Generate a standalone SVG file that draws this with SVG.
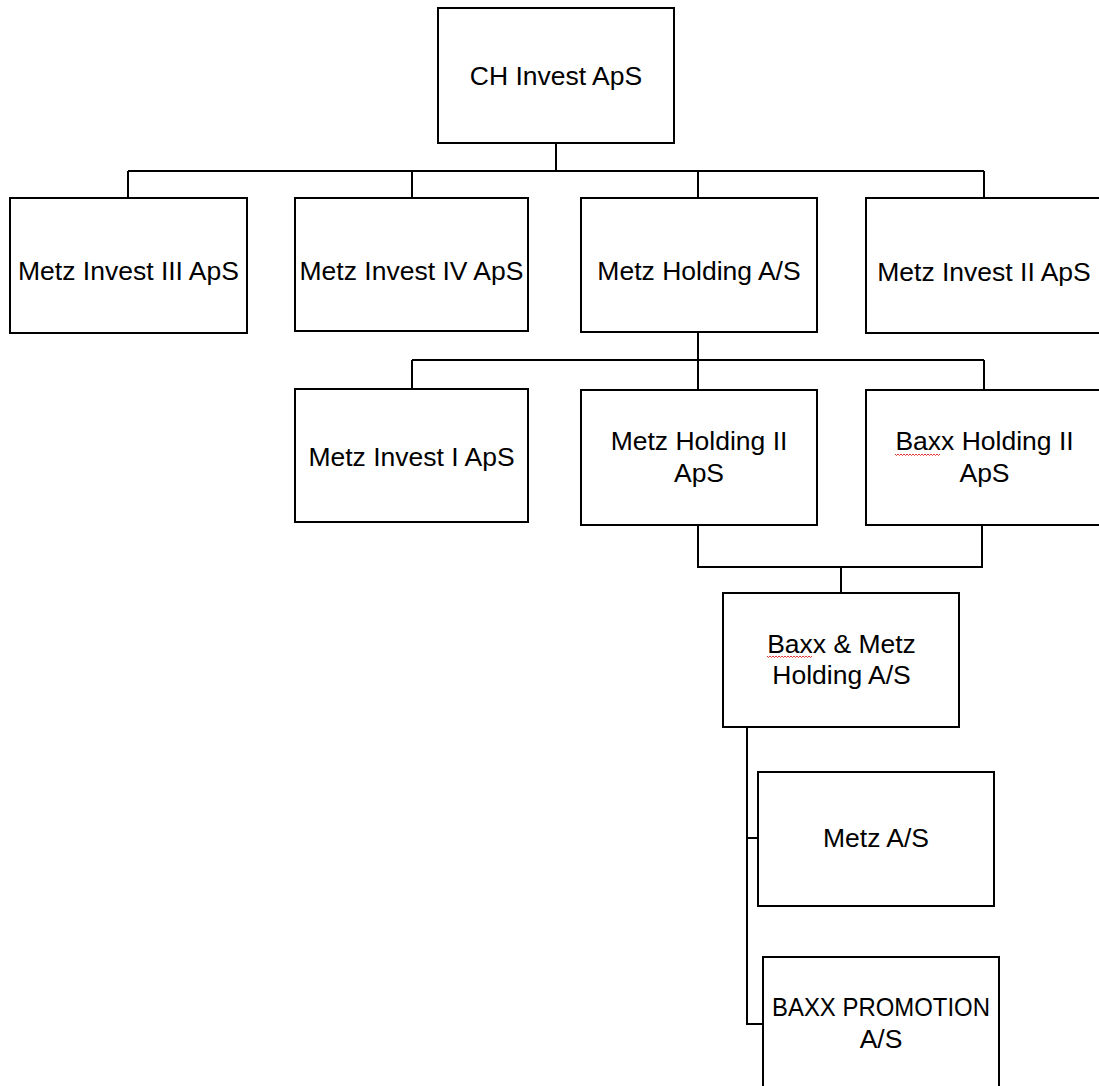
<svg xmlns="http://www.w3.org/2000/svg" width="1099" height="1086" viewBox="0 0 1099 1086">
<style>
.box{fill:#fff;stroke:#000;stroke-width:2}
.conn{fill:none;stroke:#000;stroke-width:2}
.t{font-family:"Liberation Sans",Arial,sans-serif;font-size:26.5px;fill:#000;text-anchor:middle}
.sq{fill:none;stroke:#e02020;stroke-width:0.9}
</style>
<rect width="1099" height="1086" fill="#fff"/>
<g id="connectors">
<path class="conn" d="M556,143V171M128,171H984M128,171V198M412,171V198M698,171V198M984,171V198"/>
<path class="conn" d="M698,332V360M412,360H984M412,360V390M698,360V390M984,360V390"/>
<path class="conn" d="M698,525V567H982V525M841,567V593"/>
<path class="conn" d="M747,727V1024H763M747,838H758"/>
</g>
<g id="ch-invest">
<rect class="box" x="438" y="8" width="236" height="135"/>
<text class="t" x="556" y="85">CH Invest ApS</text>
</g>
<g id="metz-invest-iii">
<rect class="box" x="10" y="198" width="237" height="135"/>
<text class="t" x="128.5" y="280">Metz Invest III ApS</text>
</g>
<g id="metz-invest-iv">
<rect class="box" x="295" y="198" width="233" height="133"/>
<text class="t" x="411.5" y="280">Metz Invest IV ApS</text>
</g>
<g id="metz-holding">
<rect class="box" x="581" y="198" width="236" height="134"/>
<text class="t" x="699" y="280">Metz Holding A/S</text>
</g>
<g id="metz-invest-ii">
<rect class="box" x="866" y="198" width="240" height="135"/>
<text class="t" x="984" y="281">Metz Invest II ApS</text>
</g>
<g id="metz-invest-i">
<rect class="box" x="295" y="389" width="233" height="133"/>
<text class="t" x="411.5" y="466">Metz Invest I ApS</text>
</g>
<g id="metz-holding-ii">
<rect class="box" x="581" y="390" width="236" height="135"/>
<text class="t" x="699" y="450">Metz Holding II</text>
<text class="t" x="699" y="482">ApS</text>
</g>
<g id="baxx-holding-ii">
<rect class="box" x="866" y="390" width="240" height="135"/>
<text class="t" x="984.5" y="450">Baxx Holding II</text>
<text class="t" x="984.5" y="482">ApS</text>
<path class="sq" d="M895,454l1.5,1.5 1.5,-1.5 1.5,1.5 1.5,-1.5 1.5,1.5 1.5,-1.5 1.5,1.5 1.5,-1.5 1.5,1.5 1.5,-1.5 1.5,1.5 1.5,-1.5 1.5,1.5 1.5,-1.5 1.5,1.5 1.5,-1.5 1.5,1.5 1.5,-1.5 1.5,1.5 1.5,-1.5 1.5,1.5 1.5,-1.5 1.5,1.5 1.5,-1.5 1.5,1.5 1.5,-1.5 1.5,1.5 1.5,-1.5 1.5,1.5 1.5,-1.5"/>
</g>
<g id="baxx-metz-holding">
<rect class="box" x="723" y="593" width="236" height="134"/>
<text class="t" x="841.5" y="653">Baxx &amp; Metz</text>
<text class="t" x="841.5" y="684">Holding A/S</text>
<path class="sq" d="M767,656l1.5,1.5 1.5,-1.5 1.5,1.5 1.5,-1.5 1.5,1.5 1.5,-1.5 1.5,1.5 1.5,-1.5 1.5,1.5 1.5,-1.5 1.5,1.5 1.5,-1.5 1.5,1.5 1.5,-1.5 1.5,1.5 1.5,-1.5 1.5,1.5 1.5,-1.5 1.5,1.5 1.5,-1.5 1.5,1.5 1.5,-1.5 1.5,1.5 1.5,-1.5 1.5,1.5 1.5,-1.5 1.5,1.5 1.5,-1.5 1.5,1.5 1.5,-1.5"/>
</g>
<g id="metz-as">
<rect class="box" x="758" y="772" width="236" height="134"/>
<text class="t" x="876" y="847">Metz A/S</text>
</g>
<g id="baxx-promotion">
<rect class="box" x="763" y="957" width="236" height="140"/>
<text class="t" x="881" y="1016" textLength="218" lengthAdjust="spacingAndGlyphs">BAXX PROMOTION</text>
<text class="t" x="881" y="1048">A/S</text>
</g>
</svg>
